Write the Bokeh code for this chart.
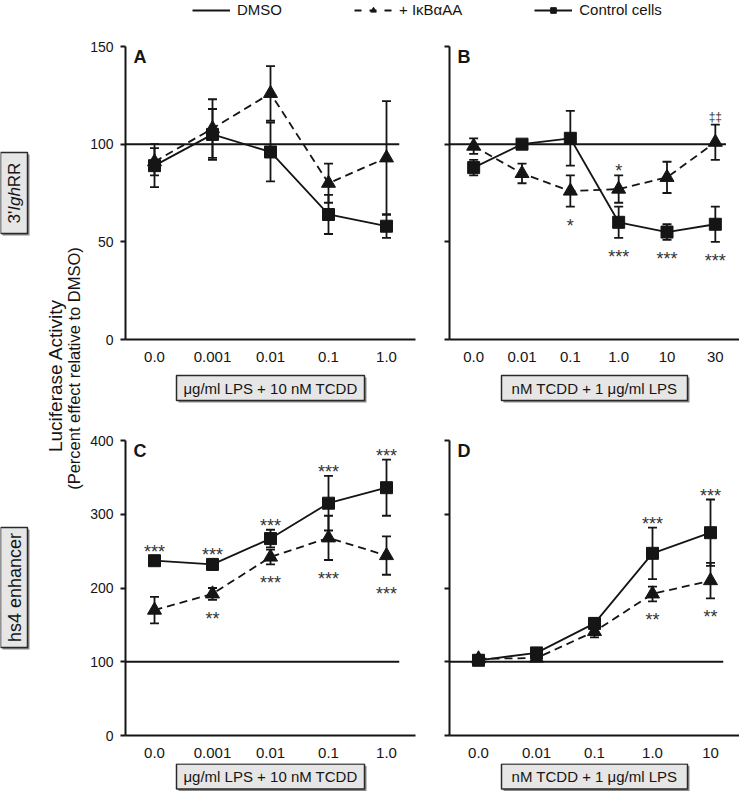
import numpy as np
from bokeh.plotting import figure
from bokeh.models import (FactorRange, Range1d, FixedTicker, ColumnDataSource, Whisker,
                          TeeHead, Label, Legend, LegendItem)
from bokeh.layouts import column, row
from bokeh.embed import file_html
from bokeh.resources import INLINE

# ---------------- data ----------------
cats_lps = ["0.0", "0.001", "0.01", "0.1", "1.0"]          # µg/ml LPS + 10 nM TCDD
cats_tcdd_b = ["0.0", "0.01", "0.1", "1.0", "10", "30"]   # nM TCDD + 1 µg/ml LPS
cats_tcdd_d = ["0.0", "0.01", "0.1", "1.0", "10"]

dmso = 100

ctrl_a = [89, 105, 96, 64, 58]
ctrl_a_err = [11, 13, 15, 10, 6]
ikb_a = [91, 108, 126, 80, 93]
ikb_a_err = [7, 15, 14, 10, 29]

ctrl_b = [88, 100, 103, 60, 55, 59]
ctrl_b_err = [4, 2, 14, 8, 4, 9]
ikb_b = [99, 85, 76, 77, 83, 101]
ikb_b_err = [4, 5, 8, 7, 8, 9]

ctrl_c = [237, 232, 267, 315, 336]
ctrl_c_err = [6, 7, 12, 37, 38]
ikb_c = [170, 192, 242, 268, 244]
ikb_c_err = [18, 8, 10, 30, 26]

ctrl_d = [102, 112, 152, 247, 275]
ctrl_d_err = [4, 5, 7, 35, 45]
ikb_d = [104, 105, 141, 192, 210]
ikb_d_err = [5, 3, 8, 10, 24]

# significance marks: (category index, series, side, text)
sig_a = []
sig_b = [(2, "ikb", "below", "*"), (3, "ikb", "above", "*"),
         (3, "ctrl", "below", "***"), (4, "ctrl", "below", "***"),
         (5, "ctrl", "below", "***"), (5, "ikb", "above", "\u2021\u2021")]
sig_c = [(0, "ctrl", "above", "***"), (1, "ctrl", "above", "***"), (1, "ikb", "below", "**"),
         (2, "ctrl", "above", "***"), (2, "ikb", "below", "***"),
         (3, "ctrl", "above", "***"), (3, "ikb", "below", "***"),
         (4, "ctrl", "above", "***"), (4, "ikb", "below", "***")]
sig_d = [(3, "ctrl", "above", "***"), (3, "ikb", "below", "**"),
         (4, "ctrl", "above", "***"), (4, "ikb", "below", "**")]

# ---------------- style ----------------
FONT = "Liberation Sans"
INK = "#151515"
STAR = "#333333"
BOXFILL = "#e6e6e6"


def panel(cats, ymax, yticks, ctrl, ctrl_err, ikb, ikb_err, letter, sig,
          show_ylabels, min_left, min_right, min_top, min_bottom, frame_h):
    width = min_left + 290 + min_right
    p = figure(width=width, height=min_top + frame_h + min_bottom,
               x_range=FactorRange(factors=cats), y_range=Range1d(0, ymax),
               output_backend="svg", toolbar_location=None,
               min_border_left=min_left, min_border_right=min_right,
               min_border_top=min_top, min_border_bottom=min_bottom)
    p.xgrid.visible = False
    p.ygrid.visible = False
    p.outline_line_color = None

    p.yaxis.ticker = FixedTicker(ticks=yticks)
    p.yaxis.minor_tick_line_color = None
    p.yaxis.major_tick_out = 5
    p.yaxis.major_tick_in = 0
    p.yaxis.major_tick_line_width = 2
    p.yaxis.major_tick_line_color = INK
    p.yaxis.axis_line_width = 2
    p.yaxis.axis_line_color = INK
    p.yaxis.major_label_text_font = FONT
    p.yaxis.major_label_text_font_size = "14px"
    p.yaxis.major_label_text_color = INK
    p.yaxis.major_label_standoff = 7
    if not show_ylabels:
        p.yaxis.major_label_overrides = {t: "" for t in yticks}

    p.xaxis.axis_line_width = 2
    p.xaxis.axis_line_color = INK
    p.xaxis.major_tick_line_color = None
    p.xaxis.minor_tick_line_color = None
    p.xaxis.major_label_text_font = FONT
    p.xaxis.major_label_text_font_size = "15px"
    p.xaxis.major_label_text_color = INK
    p.xaxis.major_label_standoff = 6

    n = len(cats)
    # DMSO reference level
    p.segment(x0=[0], x1=[n - 0.28], y0=[dmso], y1=[dmso], line_color=INK, line_width=2)

    src = ColumnDataSource(dict(
        x=cats, ctrl=ctrl, ikb=ikb,
        ctrl_hi=[v + e for v, e in zip(ctrl, ctrl_err)],
        ctrl_lo=[v - e for v, e in zip(ctrl, ctrl_err)],
        ikb_hi=[v + e for v, e in zip(ikb, ikb_err)],
        ikb_lo=[v - e for v, e in zip(ikb, ikb_err)],
    ))
    for lo, hi in (("ctrl_lo", "ctrl_hi"), ("ikb_lo", "ikb_hi")):
        w = Whisker(source=src, base="x", lower=lo, upper=hi,
                    line_color=INK, line_width=1.8,
                    upper_head=TeeHead(size=9, line_color=INK, line_width=1.8),
                    lower_head=TeeHead(size=9, line_color=INK, line_width=1.8))
        p.add_layout(w)

    p.line(x="x", y="ikb", source=src, line_color=INK, line_width=1.8, line_dash="8 5")
    p.scatter(x="x", y="ikb", source=src, marker="triangle", size=14, color=INK)
    p.line(x="x", y="ctrl", source=src, line_color=INK, line_width=1.8)
    p.scatter(x="x", y="ctrl", source=src, marker="square", size=12, color=INK)

    series = {"ctrl": (ctrl, ctrl_err), "ikb": (ikb, ikb_err)}
    xs, ys, txt, offs, sizes = [], [], [], [], []
    for idx, which, side, label in sig:
        v, e = series[which]
        dagger = "\u2021" in label
        if side == "above":
            ys.append(v[idx] + e[idx])
            offs.append(-8 if dagger else -4)
        else:
            ys.append(v[idx] - e[idx])
            offs.append(19)
        xs.append(cats[idx])
        txt.append(label)
        sizes.append("12px" if dagger else "18px")
    if xs:
        ssrc = ColumnDataSource(dict(x=xs, y=ys, t=txt, off=offs, fs=sizes))
        p.text(x="x", y="y", text="t", source=ssrc, y_offset="off",
               text_font_size="fs", text_align="center", text_baseline="alphabetic",
               text_color=STAR, text_font={"value": FONT})

    p.add_layout(Label(x=0, y=ymax, x_offset=8, y_offset=0, text=letter,
                       text_font=FONT, text_font_style="bold", text_font_size="18px",
                       text_color=INK, text_baseline="top", text_align="left"))
    return p


pA = panel(cats_lps, 150, [0, 50, 100, 150], ctrl_a, ctrl_a_err, ikb_a, ikb_a_err, "A", sig_a,
           True, 40, 10, 26, 28, 293)
pB = panel(cats_tcdd_b, 150, [0, 50, 100, 150], ctrl_b, ctrl_b_err, ikb_b, ikb_b_err, "B", sig_b,
           False, 24, 0, 26, 28, 293)
pC = panel(cats_lps, 400, [0, 100, 200, 300, 400], ctrl_c, ctrl_c_err, ikb_c, ikb_c_err, "C", sig_c,
           True, 40, 10, 30, 28, 295)
pD = panel(cats_tcdd_d, 400, [0, 100, 200, 300, 400], ctrl_d, ctrl_d_err, ikb_d, ikb_d_err, "D", sig_d,
           False, 24, 0, 30, 28, 295)


def blank(width, height):
    f = figure(width=width, height=height, x_range=Range1d(0, width), y_range=Range1d(0, height),
               x_axis_location=None, y_axis_location=None, min_border=0,
               output_backend="svg", toolbar_location=None)
    f.xgrid.visible = False
    f.ygrid.visible = False
    f.outline_line_color = None
    return f


def boxed(f, cx, cy, w, h, texts, angle=0.0):
    """texts: list of (text, x, y, size, style, align)"""
    f.quad(left=[cx - w / 2 + 2], right=[cx + w / 2 + 2], bottom=[cy - h / 2 - 2], top=[cy + h / 2 - 2],
           fill_color="#8a8a8a", line_color=None)
    f.quad(left=[cx - w / 2], right=[cx + w / 2], bottom=[cy - h / 2], top=[cy + h / 2],
           fill_color=BOXFILL, line_color="#2a2a2a", line_width=1.5)
    for t, x, y, size, style, align in texts:
        f.text(x=[x], y=[y], text=[t], angle=angle, text_font={"value": FONT},
               text_font_size=size, text_font_style=style, text_color=INK,
               text_align=align, text_baseline="middle")


# x-axis caption strips
strip1 = blank(654, 43)
boxed(strip1, 185, 22.5, 188, 25, [("\u03bcg/ml LPS + 10 nM TCDD", 185, 22.5, "15px", "normal", "center")])
boxed(strip1, 509, 22.5, 186, 25, [("nM TCDD + 1 \u03bcg/ml LPS", 509, 22.5, "15px", "normal", "center")])
strip2 = blank(654, 28)
boxed(strip2, 185, 15, 188, 25, [("\u03bcg/ml LPS + 10 nM TCDD", 185, 15, "15px", "normal", "center")])
boxed(strip2, 509, 15, 186, 25, [("nM TCDD + 1 \u03bcg/ml LPS", 509, 15, "15px", "normal", "center")])

# left column: row captions and y title
left = blank(85, 771)
pi2 = np.pi / 2
cy1 = 598.5
y0 = cy1 - 30.5
boxed(left, 13.5, cy1, 27, 81, [("3'", 14, y0, "17px", "normal", "left"),
                                 ("Igh", 14, y0 + 12.7, "17px", "italic", "left"),
                                 ("RR", 14, y0 + 36.3, "17px", "normal", "left")], angle=pi2)
boxed(left, 13.5, 204, 27, 120, [("hs4 enhancer", 14, 204, "18px", "normal", "center")], angle=pi2)
left.text(x=[55], y=[416], text=["Luciferase Activity"], angle=pi2, text_font={"value": FONT},
          text_font_size="19px", text_color=INK, text_align="center", text_baseline="middle")
left.text(x=[73], y=[423], text=["(Percent effect relative to DMSO)"], angle=pi2,
          text_font={"value": FONT}, text_font_size="16.5px", text_color=INK,
          text_align="center", text_baseline="middle")

# legend strip (legend-only renderers placed outside the visible range)
lf = blank(739, 20)
r_dmso = lf.line(x=[-20, -10], y=[-20, -20], line_color=INK, line_width=2)
r_ikb_l = lf.line(x=[-20, -10], y=[-20, -20], line_color=INK, line_width=2, line_dash="7 8")
r_ikb_m = lf.scatter(x=[-20], y=[-20], marker="triangle", size=13, color=INK)
r_ctl_l = lf.line(x=[-20, -10], y=[-20, -20], line_color=INK, line_width=2)
r_ctl_m = lf.scatter(x=[-20], y=[-20], marker="square", size=12, color=INK)
leg = Legend(items=[LegendItem(label="DMSO", renderers=[r_dmso]),
                    LegendItem(label="+ I\u03baB\u03b1AA", renderers=[r_ikb_l, r_ikb_m]),
                    LegendItem(label="Control cells", renderers=[r_ctl_l, r_ctl_m])],
             orientation="horizontal", location=(192, 2), padding=0, margin=0, spacing=72,
             glyph_width=38, glyph_height=14, label_height=14, label_standoff=7,
             label_text_font=FONT, label_text_font_size="15px", label_text_color=INK,
             border_line_color=None, background_fill_alpha=0)
lf.add_layout(leg)

right = column(row(pA, pB), strip1, row(pC, pD), strip2)
layout = column(lf, row(left, right))

open("out.html", "w").write(file_html(layout, INLINE))
